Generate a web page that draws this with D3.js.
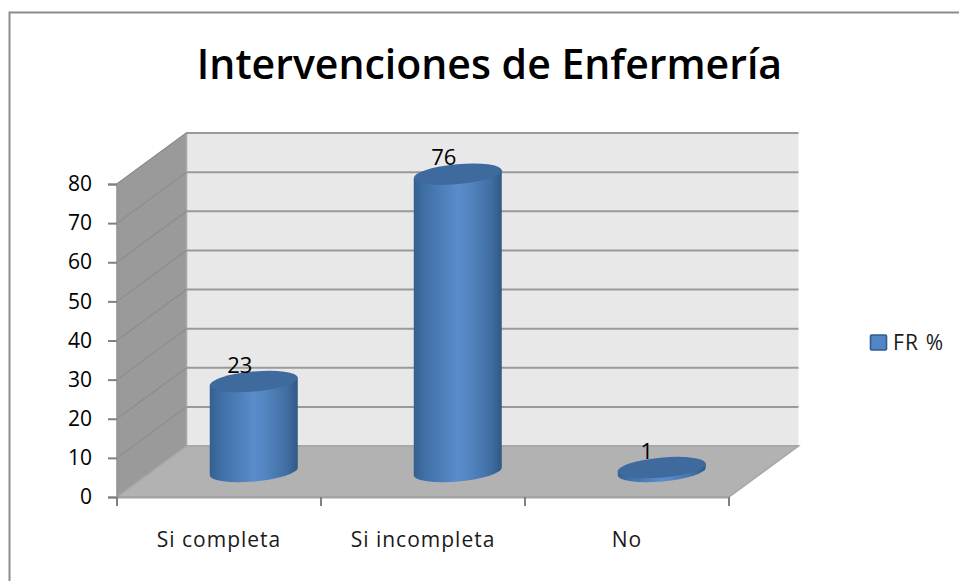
<!DOCTYPE html>
<html><head><meta charset="utf-8">
<script src="https://cdn.jsdelivr.net/npm/d3@7"></script>
<style>html,body{margin:0;padding:0;background:#fff}svg{display:block}text{font-family:"Open Sans","Noto Sans",sans-serif}</style>
</head><body><svg id="c" width="959" height="581"></svg>
<script>
const titleText = "Intervenciones de Enfermería";
const categories = ["Si completa", "Si incompleta", "No"];
const values = [23, 76, 1];
const yTicks = [0, 10, 20, 30, 40, 50, 60, 70, 80];
const seriesName = "FR %";

const svg = d3.select("#c");
const x = d3.scaleBand().domain(categories).range([117, 729]);
const y = d3.scaleLinear().domain([0, 80]).range([497, 184]);
const depth = {dx: 69.5, dy: -51};
const barDepth = 0.5, rx = 44, ry = 10, tilt = 4;

const defs = svg.append("defs");
const grad = defs.append("linearGradient").attr("id", "cyl").attr("x1", 0).attr("x2", 1).attr("y1", 0).attr("y2", 0);
[[0, "#33608f"], [0.12, "#406fa6"], [0.5, "#5a8ccb"], [0.62, "#5486c2"], [0.88, "#406ea2"], [1, "#2f5884"]]
  .forEach(([o, c]) => grad.append("stop").attr("offset", o).attr("stop-color", c));

// frame
svg.append("path").attr("d", "M9.5,581V12.5H959").attr("fill", "none").attr("stroke", "#8c8c8c").attr("stroke-width", 2);

// title
svg.append("text").attr("x", 489.5).attr("y", 79).attr("text-anchor", "middle")
  .attr("font-size", 41).attr("font-weight", 600).attr("fill", "#000").text(titleText);

const x0 = x.range()[0], x1 = x.range()[1];
const yTop = y(80), yBot = y(0);
const P = a => a.map(p => p.join(",")).join("L");
// back wall
svg.append("path").attr("d", "M" + P([[x0 + depth.dx, yTop + depth.dy], [x1 + depth.dx, yTop + depth.dy], [x1 + depth.dx, yBot + depth.dy], [x0 + depth.dx, yBot + depth.dy]]) + "Z").attr("fill", "#e8e8e8");
// side wall
svg.append("path").attr("d", "M" + P([[x0, yTop], [x0 + depth.dx, yTop + depth.dy], [x0 + depth.dx, yBot + depth.dy], [x0, yBot]]) + "Z").attr("fill", "#9a9a9a").attr("stroke", "#a6a6a6").attr("stroke-width", 1.5);
// floor
svg.append("path").attr("d", "M" + P([[x0, yBot], [x0 + depth.dx, yBot + depth.dy], [x1 + depth.dx, yBot + depth.dy], [x1, yBot]]) + "Z").attr("fill", "#b2b2b2").attr("stroke", "#a6a6a6").attr("stroke-width", 1.5);
// gridlines
const grid = svg.append("g").attr("fill", "none").attr("stroke", "#8e8e8e");
yTicks.forEach(t => {
  grid.append("path").attr("stroke-width", 2).attr("stroke", t === 0 ? "#a8a8a8" : "#9a9a9a")
    .attr("d", "M" + P([[x0 + depth.dx, y(t) + depth.dy], [x1 + depth.dx, y(t) + depth.dy]]));
  if (t > 0) grid.append("path").attr("stroke", "#8c8c8c").attr("stroke-width", 1.2)
    .attr("d", "M" + P([[x0, y(t)], [x0 + depth.dx, y(t) + depth.dy]]));
});
// axes
const yAxis = d3.axisLeft(y).tickValues(yTicks).tickSize(9).tickPadding(16);
const gy = svg.append("g").attr("transform", `translate(${x0},0)`).call(yAxis);
gy.select(".domain").attr("stroke", "#969696").attr("stroke-width", 2);
gy.selectAll("line").attr("stroke", "#808080").attr("stroke-width", 2);
gy.selectAll("text").attr("font-size", 21).attr("fill", "#000");

const xAxis = d3.axisBottom(x).tickSizeOuter(0).tickSize(0).tickPadding(35);
const gx = svg.append("g").attr("transform", `translate(0,${yBot})`).call(xAxis);
gx.select(".domain").attr("stroke", "#a0a0a0").attr("stroke-width", 2);
gx.selectAll("text").attr("font-size", 21).attr("letter-spacing", 1).attr("fill", "#1a1a1a");
const step = x.step();
[0, 1, 2, 3].forEach(i => gx.append("line").attr("x1", x0 + i * step).attr("x2", x0 + i * step).attr("y1", 0).attr("y2", 9).attr("stroke", "#808080").attr("stroke-width", 2));

// cylinders
const ang = -Math.atan2(tilt, rx) * 180 / Math.PI;
const R = Math.hypot(rx, tilt);
categories.forEach((c, i) => {
  const cx = x(c) + x.bandwidth() / 2 + barDepth * depth.dx;
  const cyB = yBot + barDepth * depth.dy;
  const h = yBot - y(values[i]);
  const cyT = cyB - h;
  const g = svg.append("g");
  g.append("path").attr("fill", "url(#cyl)").attr("d",
    `M${cx - rx},${cyT + tilt}L${cx - rx},${cyB + tilt}A${R},${ry} ${ang} 0 0 ${cx + rx},${cyB - tilt}L${cx + rx},${cyT - tilt}Z`);
  g.append("ellipse").attr("rx", R).attr("ry", ry).attr("fill", "#3e6a9e")
    .attr("transform", `translate(${cx},${cyT}) rotate(${ang})`);
  svg.append("text").attr("x", cx - 14 - (i === 2 ? 1 : 0)).attr("y", cyT - 9).attr("text-anchor", "middle")
    .attr("font-size", 22).attr("fill", "#000").text(values[i]);
});

// legend
svg.append("rect").attr("x", 870.5).attr("y", 335).attr("width", 16).attr("height", 15).attr("rx", 1)
  .attr("fill", "#5285c4").attr("stroke", "#2f5c90").attr("stroke-width", 1.6);
svg.append("text").attr("x", 893).attr("y", 350).attr("font-size", 21).attr("letter-spacing", 1.2).attr("fill", "#1a1a1a").text(seriesName);
</script></body></html>
